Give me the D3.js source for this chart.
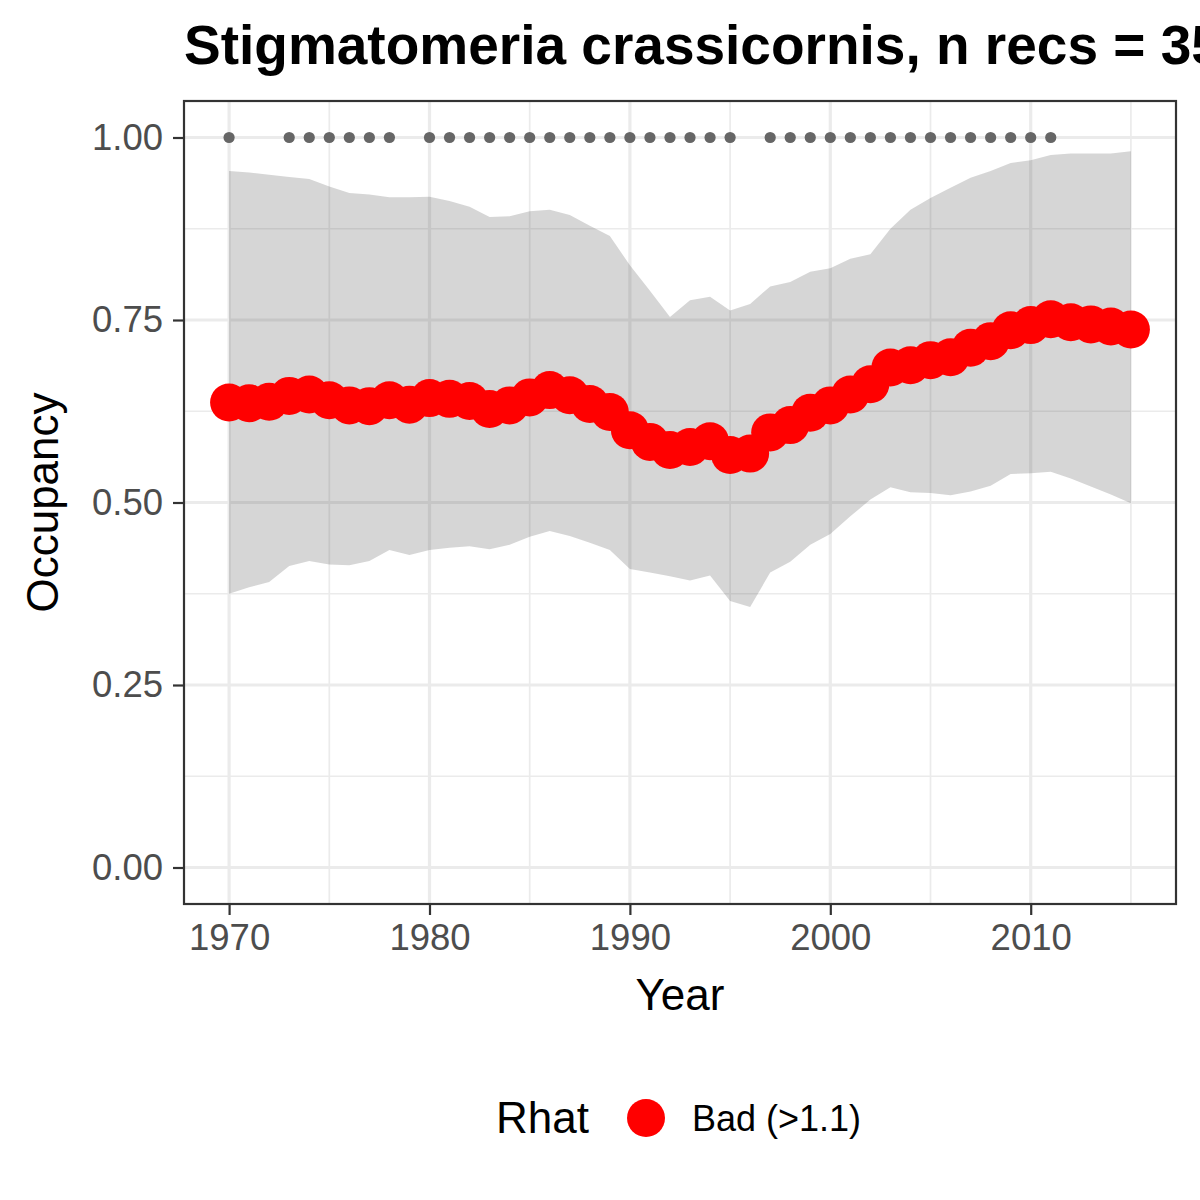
<!DOCTYPE html>
<html>
<head>
<meta charset="utf-8">
<script src="https://cdn.jsdelivr.net/npm/d3@7"></script>
<style>
  body { margin: 0; background: #fff; }
  svg { display: block; font-family: "Liberation Sans", Arial, sans-serif; }
</style>
</head>
<body>
<svg id="chart" width="1200" height="1200"></svg>
<script>
// data
var years = [1970,1971,1972,1973,1974,1975,1976,1977,1978,1979,
             1980,1981,1982,1983,1984,1985,1986,1987,1988,1989,
             1990,1991,1992,1993,1994,1995,1996,1997,1998,1999,
             2000,2001,2002,2003,2004,2005,2006,2007,2008,2009,
             2010,2011,2012,2013,2014,2015];

var occMean = [0.637,0.636,0.638,0.646,0.648,0.640,0.633,0.632,0.640,0.634,
               0.643,0.642,0.639,0.628,0.633,0.644,0.654,0.647,0.635,0.624,
               0.599,0.583,0.572,0.576,0.584,0.565,0.567,0.596,0.606,0.623,
               0.633,0.648,0.662,0.685,0.688,0.695,0.699,0.712,0.721,0.736,
               0.743,0.751,0.747,0.744,0.741,0.737];

var occUpper = [0.954,0.952,0.949,0.946,0.943,0.933,0.924,0.922,0.918,0.918,
                0.919,0.913,0.905,0.891,0.892,0.899,0.901,0.894,0.879,0.865,
                0.825,0.790,0.754,0.777,0.782,0.763,0.772,0.796,0.802,0.816,
                0.821,0.834,0.840,0.875,0.901,0.917,0.931,0.945,0.954,0.965,
                0.969,0.976,0.978,0.978,0.978,0.981];

var occLower = [0.375,0.384,0.391,0.413,0.420,0.415,0.414,0.420,0.435,0.428,
                0.435,0.438,0.440,0.436,0.442,0.453,0.461,0.454,0.445,0.435,
                0.409,0.404,0.399,0.393,0.400,0.365,0.357,0.404,0.419,0.442,
                0.457,0.481,0.504,0.521,0.514,0.513,0.510,0.515,0.523,0.539,
                0.540,0.542,0.533,0.522,0.511,0.499];

// years with records (grey dots at 1)
var recYears = [1970,1973,1974,1975,1976,1977,1978,
                1980,1981,1982,1983,1984,1985,1986,1987,1988,1989,
                1990,1991,1992,1993,1994,1995,
                1997,1998,1999,2000,2001,2002,2003,2004,2005,2006,2007,2008,2009,2010,2011];

var xTicks = [1970, 1980, 1990, 2000, 2010];
var xMinor = [1975, 1985, 1995, 2005, 2015];
var yTicks = [0, 0.25, 0.5, 0.75, 1];
var yMinor = [0.125, 0.375, 0.625, 0.875];

var titleText = "Stigmatomeria crassicornis, n recs = 35";
var legendTitle = "Rhat";
var legendLabel = "Bad (>1.1)";

var panel = { left: 184, right: 1176, top: 101, bottom: 904 };

var x = d3.scaleLinear().domain([1967.75, 2017.25]).range([panel.left, panel.right]);
var y = d3.scaleLinear().domain([-0.05, 1.05]).range([panel.bottom, panel.top]);

var svg = d3.select("#chart");

var rows = years.map(function(yr, i) {
	return { year: yr, mean: occMean[i], lo: occLower[i], hi: occUpper[i] };
});

// grid
var grid = svg.append("g");
grid.selectAll("line.xminor").data(xMinor).enter().append("line")
	.attr("x1", function(d) { return x(d); }).attr("x2", function(d) { return x(d); })
	.attr("y1", panel.top).attr("y2", panel.bottom)
	.attr("stroke", "#EBEBEB").attr("stroke-width", 1.7);
grid.selectAll("line.yminor").data(yMinor).enter().append("line")
	.attr("y1", function(d) { return y(d); }).attr("y2", function(d) { return y(d); })
	.attr("x1", panel.left).attr("x2", panel.right)
	.attr("stroke", "#EBEBEB").attr("stroke-width", 1.7);
grid.selectAll("line.xmajor").data(xTicks).enter().append("line")
	.attr("x1", function(d) { return x(d); }).attr("x2", function(d) { return x(d); })
	.attr("y1", panel.top).attr("y2", panel.bottom)
	.attr("stroke", "#EBEBEB").attr("stroke-width", 3.2);
grid.selectAll("line.ymajor").data(yTicks).enter().append("line")
	.attr("y1", function(d) { return y(d); }).attr("y2", function(d) { return y(d); })
	.attr("x1", panel.left).attr("x2", panel.right)
	.attr("stroke", "#EBEBEB").attr("stroke-width", 3.2);

// credible interval ribbon
var area = d3.area()
	.x(function(d) { return x(d.year); })
	.y0(function(d) { return y(d.lo); })
	.y1(function(d) { return y(d.hi); });

svg.append("path")
	.datum(rows)
	.attr("d", area)
	.attr("fill", "#333333")
	.attr("fill-opacity", 0.2);

// record years
svg.append("g").selectAll("circle")
	.data(recYears)
	.enter()
	.append("circle")
	.attr("cx", function(d) { return x(d); })
	.attr("cy", y(1))
	.attr("r", 5.6)
	.attr("fill", "#666666");

// occupancy points
svg.append("g").selectAll("circle")
	.data(rows)
	.enter()
	.append("circle")
	.attr("cx", function(d) { return x(d.year); })
	.attr("cy", function(d) { return y(d.mean); })
	.attr("r", 19)
	.attr("fill", "#FF0000");

// panel border
svg.append("rect")
	.attr("x", panel.left).attr("y", panel.top)
	.attr("width", panel.right - panel.left).attr("height", panel.bottom - panel.top)
	.attr("fill", "none").attr("stroke", "#333333").attr("stroke-width", 2.2);

// axes
var xAxis = d3.axisBottom(x).tickValues(xTicks).tickFormat(d3.format("d"))
	.tickSize(11).tickPadding(9);
var yAxis = d3.axisLeft(y).tickValues(yTicks).tickFormat(d3.format(".2f"))
	.tickSize(11).tickPadding(10);

var gx = svg.append("g").attr("transform", "translate(0," + panel.bottom + ")").call(xAxis);
var gy = svg.append("g").attr("transform", "translate(" + panel.left + ",0)").call(yAxis);

[gx, gy].forEach(function(g) {
	g.select(".domain").remove();
	g.selectAll(".tick line").attr("stroke", "#333333").attr("stroke-width", 2.2);
	g.selectAll(".tick text")
		.attr("fill", "#4D4D4D")
		.style("font-size", "36.5px")
		.style("font-family", "'Liberation Sans', Arial, sans-serif");
});

// axis titles
svg.append("text")
	.attr("x", (panel.left + panel.right) / 2)
	.attr("y", 1010)
	.attr("text-anchor", "middle")
	.style("font-size", "44px")
	.attr("fill", "#000")
	.text("Year");

svg.append("text")
	.attr("transform", "translate(58," + ((panel.top + panel.bottom) / 2) + ") rotate(-90)")
	.attr("text-anchor", "middle")
	.style("font-size", "44px")
	.attr("fill", "#000")
	.text("Occupancy");

// title (runs off the right edge, as in the original)
svg.append("text")
	.attr("x", panel.left)
	.attr("y", 64)
	.style("font-size", "55px")
	.style("font-weight", "bold")
	.attr("fill", "#000")
	.text(titleText);

// legend
var lg = svg.append("g");
lg.append("text")
	.attr("x", 496).attr("y", 1133)
	.style("font-size", "44px")
	.attr("fill", "#000")
	.text(legendTitle);
lg.append("circle")
	.attr("cx", 646).attr("cy", 1118)
	.attr("r", 19)
	.attr("fill", "#FF0000");
lg.append("text")
	.attr("x", 692).attr("y", 1131)
	.style("font-size", "36px")
	.attr("fill", "#000")
	.text(legendLabel);
</script>
</body>
</html>
